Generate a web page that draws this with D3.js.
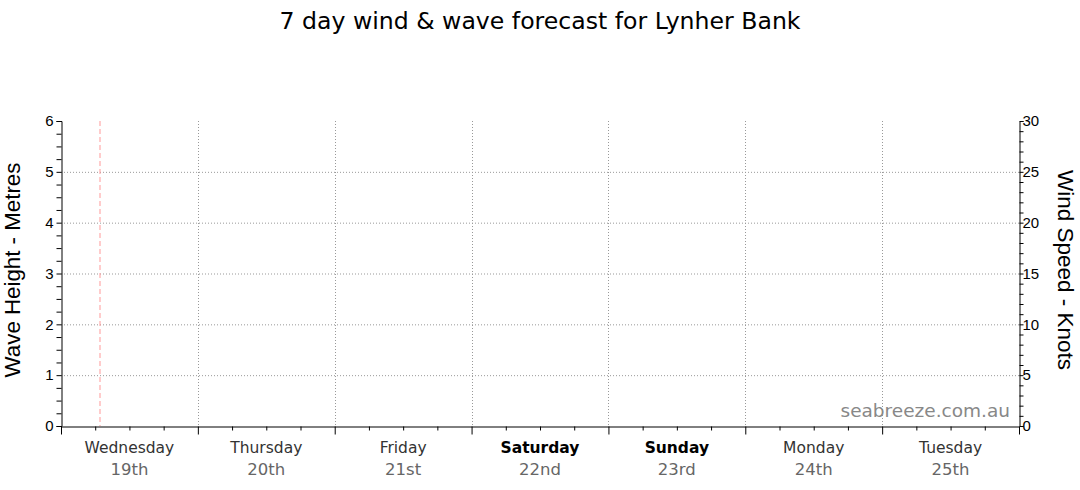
<!DOCTYPE html>
<html><head><meta charset="utf-8">
<script src="https://cdn.jsdelivr.net/npm/d3@7"></script>
<style>body{margin:0;background:#fff;} svg{display:block;}</style>
</head><body>
<svg id="c" width="1080" height="490"></svg>
<script>
const title = "7 day wind & wave forecast for Lynher Bank";
const dayNames = ["Wednesday","Thursday","Friday","Saturday","Sunday","Monday","Tuesday"];
const dayDates = ["19th","20th","21st","22nd","23rd","24th","25th"];
const weekendDays = ["Saturday","Sunday"];
const waveTicks = [0,1,2,3,4,5,6];
const windTicks = [0,5,10,15,20,25,30];
const nowMarker = 0.285; // days since start of Wednesday
const leftTitle = "Wave Height - Metres";
const rightTitle = "Wind Speed - Knots";
const watermark = "seabreeze.com.au";

const svg = d3.select("#c");
const L = 61, R = 1019, T = 121, B = 426;
const x = d3.scaleLinear().domain([0, dayNames.length]).range([L, R]);
const yWave = d3.scaleLinear().domain([0, 6]).range([B, T]);
const yWind = d3.scaleLinear().domain([0, 30]).range([B, T]);

svg.append("text").attr("x", 540).attr("y", 29).attr("text-anchor","middle")
  .attr("font-family","DejaVu Sans").attr("font-size", 23.6).attr("fill","#000").text(title);

// grid
const g = svg.append("g");
g.selectAll(".hg").data(waveTicks.filter(d => d > 0 && d < 6)).join("line")
  .attr("x1", L).attr("x2", R).attr("y1", d => yWave(d)+0.5).attr("y2", d => yWave(d)+0.5)
  .attr("stroke","#999").attr("stroke-dasharray","1,2");
g.selectAll(".vg").data(d3.range(1, dayNames.length)).join("line")
  .attr("x1", d => Math.round(x(d))+0.5).attr("x2", d => Math.round(x(d))+0.5).attr("y1", T).attr("y2", B)
  .attr("stroke","#999").attr("stroke-dasharray","1,2");

// now marker
svg.append("line").attr("x1", x(nowMarker)).attr("x2", x(nowMarker)).attr("y1", T).attr("y2", B)
  .attr("stroke","#ff9999").attr("stroke-dasharray","5,3");

// left axis
const la = svg.append("g").attr("transform", `translate(${L+0.5},0)`);
la.call(d3.axisLeft(yWave).tickValues(d3.range(0, 6.01, 0.25)).tickSize(5).tickFormat(""));
la.selectAll("text.lbl").data(waveTicks).join("text").attr("class","lbl")
  .attr("x", -8).attr("y", d => yWave(d)).attr("dy","0.35em").attr("text-anchor","end")
  .attr("font-family","Liberation Sans, Arial").attr("font-size",15).attr("fill","#000").text(d => d);

// right axis
const ra = svg.append("g").attr("transform", `translate(${R+0.5},0)`);
ra.call(d3.axisRight(yWind).tickValues(d3.range(0, 31, 1)).tickSize(4).tickFormat(""));
ra.selectAll("text.lbl").data(windTicks).join("text").attr("class","lbl")
  .attr("x", 3).attr("y", d => yWind(d)).attr("dy","0.35em").attr("text-anchor","start")
  .attr("font-family","Liberation Sans, Arial").attr("font-size",15).attr("fill","#000").text(d => d);

// bottom axis
const ba = svg.append("g").attr("transform", `translate(0,${B+0.5})`);
ba.call(d3.axisBottom(x).tickValues(d3.range(0, dayNames.length+0.01, 0.25).filter(d => d % 1 !== 0)).tickSize(4).tickFormat(""));
ba.call(g2 => g2.select(".domain").remove());
const baM = svg.append("g").attr("transform", `translate(0,${B+0.5})`);
baM.call(d3.axisBottom(x).tickValues(d3.range(0, dayNames.length+1)).tickSize(8).tickSizeOuter(0).tickFormat(""));
svg.selectAll(".domain").attr("stroke","#000");

const dl = svg.append("g");
dl.selectAll("text.day").data(dayNames).join("text").attr("class","day")
  .attr("x", (d,i) => x(i+0.5)).attr("y", 453).attr("text-anchor","middle")
  .attr("font-family","DejaVu Sans").attr("font-size",15.5)
  .attr("font-weight", d => weekendDays.includes(d) ? "bold" : "normal")
  .attr("fill", d => weekendDays.includes(d) ? "#000" : "#333").text(d => d);
dl.selectAll("text.date").data(dayDates).join("text").attr("class","date")
  .attr("x", (d,i) => x(i+0.5)).attr("y", 475).attr("text-anchor","middle")
  .attr("font-family","DejaVu Sans").attr("font-size",16.5).attr("fill","#666").text(d => d);

// axis titles
svg.append("text").attr("transform", `translate(20,270) rotate(-90)`).attr("text-anchor","middle")
  .attr("font-family","Liberation Sans, Arial").attr("font-size",22.3).attr("fill","#000").text(leftTitle);
svg.append("text").attr("transform", `translate(1058,270) rotate(90)`).attr("text-anchor","middle")
  .attr("font-family","Liberation Sans, Arial").attr("font-size",22.5).attr("fill","#000").text(rightTitle);

// watermark
svg.append("text").attr("x", 1010).attr("y", 417).attr("text-anchor","end")
  .attr("font-family","DejaVu Sans").attr("font-size",18.5).attr("fill","#888").text(watermark);
</script>
</body></html>
